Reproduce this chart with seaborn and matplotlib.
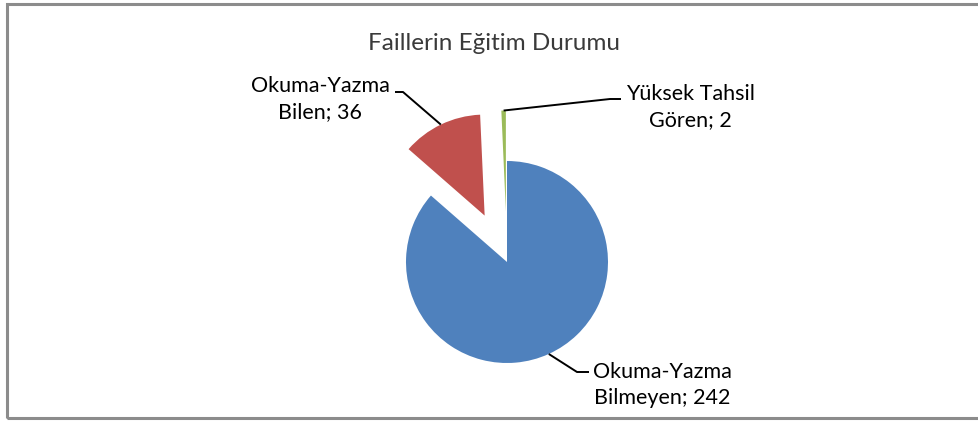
import numpy as np
import matplotlib
matplotlib.use("Agg")
import matplotlib.pyplot as plt
import seaborn as sns
from matplotlib.patches import Rectangle

# veri
categories = ["Okuma-Yazma\nBilmeyen", "Okuma-Yazma\nBilen", "Yüksek Tahsil\nGören"]
counts = [242, 36, 2]
colors = ["#4F81BD", "#C0504D", "#9BBB59"]
explode = [0.0, 0.51, 0.5]   # yarıçapa oranla
title = "Faillerin Eğitim Durumu"

sns.set_theme(style="white")
plt.rcParams["font.family"] = ["Lato", "DejaVu Sans"]
palette = sns.color_palette(colors)

W, H = 979, 421
R = 101
fig = plt.figure(figsize=(W / 100, H / 100), dpi=100)
# eksen = piksel koordinatları (y aşağıdan)
ax = fig.add_axes([0, 0, 1, 1])

# çerçeve
ax.add_patch(Rectangle((7, 3), W + 10, 414, fill=False, edgecolor="#8c8c8c", linewidth=2.2))

# matplotlib'de explode veri biriminde -> yarıçapla çarp
wedges, _ = ax.pie(counts, colors=palette, explode=[e * R for e in explode],
                   startangle=90, counterclock=False, center=(507, 159), radius=R,
                   wedgeprops=dict(linewidth=0), frame=True)
ax.set_xlim(0, W)
ax.set_ylim(0, H)
ax.set_aspect("equal")
ax.axis("off")

ax.text(494, 378, title, ha="center", va="center", fontsize=17.5, color="#3a3a3a")

# etiket yerleşimi: metin merkezi, dirsek, yatay çizgi sonu
label_layout = [
    dict(text=(662, 36), elbow=(577, 49), end=(589, 49)),
    dict(text=(320, 322), elbow=(403, 329), end=(395, 329)),
    dict(text=(690, 314), elbow=(610, 322), end=(621, 322)),
]

for w, cat, n, lay in zip(wedges, categories, counts, label_layout):
    ang = np.deg2rad((w.theta1 + w.theta2) / 2)
    cx, cy = w.center
    px, py = cx + w.r * np.cos(ang), cy + w.r * np.sin(ang)
    ex, ey = lay["elbow"]
    hx, hy = lay["end"]
    ax.plot([px, ex, hx], [py, ey, hy], color="black", linewidth=1.4,
            solid_capstyle="butt")
    ax.text(lay["text"][0], lay["text"][1], f"{cat}; {n}", ha="center", va="center",
            fontsize=15.5, color="black", linespacing=1.38, multialignment="center")

fig.savefig("out.png", dpi=100, facecolor="white")
